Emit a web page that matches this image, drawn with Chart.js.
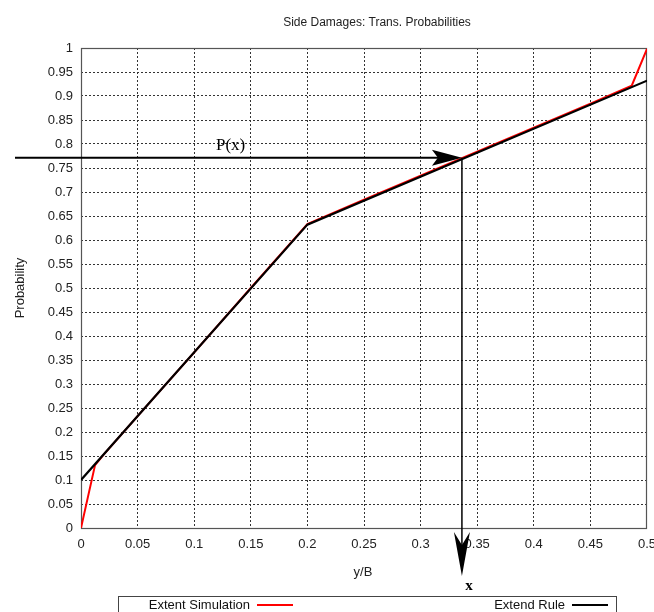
<!DOCTYPE html>
<html>
<head>
<meta charset="utf-8">
<script src="https://cdn.jsdelivr.net/npm/chart.js@4/dist/chart.umd.min.js"></script>
<style>
html,body{margin:0;padding:0;background:#fff;}
#wrap{width:654px;height:612px;position:relative;}
</style>
</head>
<body>
<div id="wrap"><canvas id="c" width="654" height="612"></canvas></div>
<script>
// ---- data ----
const simX = [0, 0.0124, 0.02, 0.05, 0.1, 0.15, 0.2, 0.25, 0.3, 0.35, 0.4, 0.45, 0.4865, 0.5];
const simY = [0, 0.131, 0.153, 0.233, 0.366, 0.50, 0.633, 0.684, 0.734, 0.784, 0.834, 0.884, 0.9215, 0.998];
const ruleX = [0, 0.2, 0.5];
const ruleY = [0.1, 0.632, 0.932];
const xTickLabels = ['0','0.05','0.1','0.15','0.2','0.25','0.3','0.35','0.4','0.45','0.5'];
const yTickLabels = ['0','0.05','0.1','0.15','0.2','0.25','0.3','0.35','0.4','0.45','0.5','0.55','0.6','0.65','0.7','0.75','0.8','0.85','0.9','0.95','1'];
const markX = 0.3365;   // x on the annotation
const markP = 0.7715;   // P(x)
const titleText = 'Side Damages: Trans. Probabilities';
const xTitle = 'y/B';
const yTitle = 'Probability';
const seriesNames = ['Extent Simulation', 'Extend Rule'];

const FONT = "'Liberation Sans',Arial,sans-serif";

const toPts = (xs, ys) => xs.map((x, i) => ({x: x, y: ys[i]}));
const gridColor = (ctx) => (ctx.index === 0 || ctx.index === ctx.scale.ticks.length - 1) ? 'rgba(0,0,0,0)' : '#333';

const decor = {
  id: 'decor',
  beforeDatasetsDraw(chart) {
    const {ctx, chartArea: a} = chart;
    ctx.save();
    ctx.strokeStyle = '#555';
    ctx.lineWidth = 1.2;
    ctx.strokeRect(Math.round(a.left) + 0.5, Math.round(a.top) + 0.5,
                   Math.round(a.right - a.left) - 1, Math.round(a.bottom - a.top));
    ctx.restore();
  },
  afterDraw(chart) {
    const {ctx, scales: {x, y}} = chart;
    ctx.save();
    ctx.fillStyle = '#222';
    ctx.textBaseline = 'middle';
    ctx.textAlign = 'center';
    ctx.font = '12px ' + FONT;
    ctx.fillText(titleText, 377, 23);
    ctx.font = '13px ' + FONT;
    ctx.fillText(xTitle, 363, 572);
    ctx.save();
    ctx.translate(20, 288);
    ctx.rotate(-Math.PI / 2);
    ctx.fillText(yTitle, 0, 0);
    ctx.restore();

    // annotation arrows
    const px = x.getPixelForValue(markX);
    const py = y.getPixelForValue(markP);
    ctx.strokeStyle = '#000';
    ctx.fillStyle = '#000';
    ctx.lineWidth = 2;
    ctx.beginPath();
    ctx.moveTo(15, py);
    ctx.lineTo(px - 20, py);
    ctx.stroke();
    ctx.beginPath();
    ctx.moveTo(px, py);
    ctx.lineTo(px - 30, py - 8);
    ctx.lineTo(px - 24, py);
    ctx.lineTo(px - 30, py + 8);
    ctx.closePath();
    ctx.fill();
    // vertical
    ctx.lineWidth = 1.5;
    ctx.beginPath();
    ctx.moveTo(px, py);
    ctx.lineTo(px, 560);
    ctx.stroke();
    ctx.beginPath();
    ctx.moveTo(px, 576);
    ctx.lineTo(px - 8, 532);
    ctx.lineTo(px, 545);
    ctx.lineTo(px + 8, 532);
    ctx.closePath();
    ctx.fill();

    ctx.font = '17px "Liberation Serif","DejaVu Serif",serif';
    ctx.textAlign = 'left';
    ctx.fillText('P(x)', 216, 146);
    ctx.font = 'bold 15px "Liberation Serif","DejaVu Serif",serif';
    ctx.textAlign = 'center';
    ctx.fillText('x', 469, 586);

    // legend
    ctx.strokeStyle = '#444';
    ctx.lineWidth = 1;
    ctx.strokeRect(118.5, 596.5, 498, 30);
    ctx.fillStyle = '#111';
    ctx.font = '13px ' + FONT;
    ctx.textAlign = 'right';
    ctx.fillText(seriesNames[0], 250, 605);
    ctx.fillText(seriesNames[1], 565, 605);
    ctx.lineWidth = 2;
    ctx.strokeStyle = '#ff0000';
    ctx.beginPath(); ctx.moveTo(257, 605); ctx.lineTo(293, 605); ctx.stroke();
    ctx.strokeStyle = '#000';
    ctx.beginPath(); ctx.moveTo(572, 605); ctx.lineTo(608, 605); ctx.stroke();
    ctx.restore();
  }
};

new Chart(document.getElementById('c'), {
  type: 'line',
  data: {
    datasets: [
      { label: seriesNames[1], data: toPts(ruleX, ruleY), borderColor: '#000', borderWidth: 2.2,
        pointRadius: 0, tension: 0, fill: false },
      { label: seriesNames[0], data: toPts(simX, simY), borderColor: '#ff0000', borderWidth: 2,
        pointRadius: 0, tension: 0, fill: false }
    ]
  },
  options: {
    responsive: false,
    animation: false,
    events: [],
    layout: { padding: { top: 48, left: 0, right: 7, bottom: 0 } },
    plugins: { legend: { display: false }, tooltip: { enabled: false }, title: { display: false } },
    scales: {
      x: {
        type: 'linear', min: 0, max: 0.5,
        afterFit(s) { s.height = 84; s.paddingLeft = 0; s.paddingRight = 0; },
        afterBuildTicks(s) { s.ticks = xTickLabels.map(v => ({value: parseFloat(v)})); },
        ticks: { padding: 9, maxRotation: 0, autoSkip: false, color: '#222',
                 font: { family: FONT, size: 13 },
                 callback: (v, i) => xTickLabels[i] },
        grid: { color: gridColor, lineWidth: 1, drawTicks: false },
        border: { display: false, dash: [2, 2] }
      },
      y: {
        type: 'linear', min: 0, max: 1,
        afterFit(s) { s.width = 81; s.paddingTop = 0; s.paddingBottom = 0; },
        afterBuildTicks(s) { s.ticks = yTickLabels.map(v => ({value: parseFloat(v)})); },
        ticks: { padding: 8, autoSkip: false, color: '#222',
                 font: { family: FONT, size: 13 },
                 callback: (v, i) => yTickLabels[i] },
        grid: { color: gridColor, lineWidth: 1, drawTicks: false },
        border: { display: false, dash: [2, 2] }
      }
    }
  },
  plugins: [decor]
});
</script>
</body>
</html>
